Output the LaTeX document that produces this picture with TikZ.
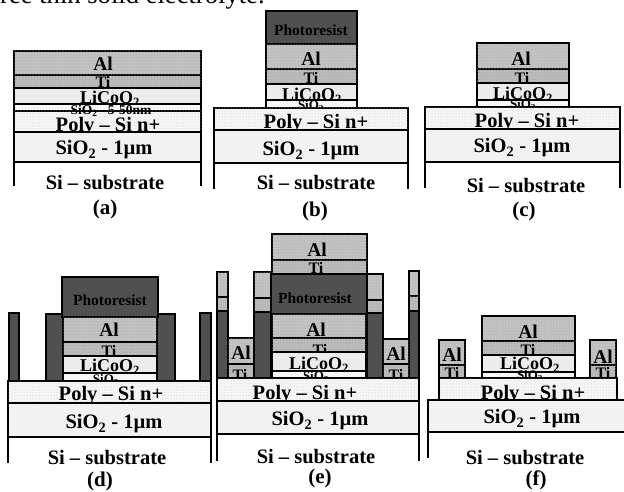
\documentclass[tikz,border=0pt]{standalone}
\usepackage{fontspec}
\setmainfont{Liberation Serif}
\usetikzlibrary{patterns}
\newcommand{\bfsize}[1]{\fontsize{#1}{#1}\selectfont\bfseries}
\newcommand{\SiO}{SiO\textsubscript{2}}
\newcommand{\Film}[5]{\draw[#1] (#2,#3) rectangle (#4,#5);}
\definecolor{alfill}{RGB}{190,190,190}
\definecolor{alspot}{RGB}{225,225,225}
\definecolor{polyfill}{RGB}{246,246,246}
\definecolor{polyspot}{RGB}{200,200,200}
\definecolor{licoo}{RGB}{236,236,236}
\definecolor{oxide}{RGB}{242,242,242}
\definecolor{resist}{RGB}{80,80,80}
\tikzset{
    film/.style={draw=black,line width=1.2pt},
    metal/.style={film,fill=alfill,postaction={pattern=dots,pattern color=alspot}},
    titan/.style={film,fill=alfill!96!black,postaction={pattern=dots,pattern color=alspot}},
    licoofilm/.style={film,fill=licoo},
    thinox/.style={film,fill=oxide!60!white},
    poly/.style={film,fill=polyfill,postaction={pattern=dots,pattern color=polyspot}},
    oxidefilm/.style={film,fill=oxide},
    resistfilm/.style={film,fill=resist},
    wall/.style={draw=black,line width=1.2pt},
    every node/.style={inner sep=0pt,text=black},
    lblal/.style={font=\bfsize{19.5}},
    lblti/.style={font=\bfsize{16}},
    lbllico/.style={font=\bfsize{18}},
    lblthin/.style={font=\bfsize{13}},
    lblpr/.style={font=\bfsize{15.5}},
    lblbig/.style={font=\bfsize{20.5}},
    lblcap/.style={font=\bfsize{21}},
}
\begin{document}
\begin{tikzpicture}[x=1pt,y=-1pt]
    \useasboundingbox (0,0) rectangle (624,492);
    \clip (0,0) rectangle (624,492);
    \fill[white] (0,0) rectangle (624,492);
    \node[anchor=base west,font=\fontsize{26.6}{30}\selectfont] (head) at (0,3.5) {ree thin solid electrolyte.};
    % panel a
    \Film{metal}{14}{51}{201}{75}
    \node[lblal] (a1) at (103,64) {Al};
    \Film{titan}{14}{75}{201}{88}
    \node[lblti] (a2) at (103,82) {Ti};
    \Film{licoofilm}{14}{88}{201}{104}
    \node[lbllico] (a3) at (110,99) {LiCoO\textsubscript{2}};
    \Film{thinox}{14}{104}{201}{111}
    \Film{poly}{14}{111}{201}{132}
    \node[lblthin,font=\bfsize{13.5}] (a4) at (111,111) {\SiO\ –5-50nm};
    \node[lblbig] (a5) at (108,127) {Poly – Si n+};
    \Film{oxidefilm}{14}{132}{201}{162}
    \node[lblbig] (a6) at (104,150) {\SiO\ - 1µm};
    \draw[wall] (14,162) -- (14,186) (201,162) -- (201,186);
    \node[lblbig] (a7) at (105,183) {Si – substrate};
    \node[lblcap] (a8) at (105,209) {(a)};
    % panel b
    \Film{resistfilm}{266}{11}{357}{44}
    \node[lblpr] (b1) at (311,30) {Photoresist};
    \Film{metal}{266}{44}{357}{69}
    \node[lblal] (b2) at (311,59) {Al};
    \Film{titan}{266}{69}{357}{84}
    \node[lblti] (b3) at (311,78) {Ti};
    \Film{licoofilm}{266}{84}{357}{100}
    \node[lbllico] (b4) at (312,96) {LiCoO\textsubscript{2}};
    \Film{thinox}{266}{100}{357}{108}
    \node[lblthin] (b5) at (311,106) {\SiO};
    \Film{poly}{214}{108}{408}{130}
    \node[lblbig] (b6) at (316,124) {Poly – Si n+};
    \Film{oxidefilm}{214}{130}{408}{163}
    \node[lblbig] (b7) at (311,151) {\SiO\ - 1µm};
    \draw[wall] (214,163) -- (214,189) (408,163) -- (408,189);
    \node[lblbig] (b8) at (316,183) {Si – substrate};
    \node[lblcap] (b9) at (315,211) {(b)};
    % panel c
    \Film{metal}{477}{43}{569}{69}
    \node[lblal] (c1) at (521,59) {Al};
    \Film{titan}{477}{69}{569}{83}
    \node[lblti] (c2) at (522,78) {Ti};
    \Film{licoofilm}{477}{83}{569}{100}
    \node[lbllico] (c3) at (523,95) {LiCoO\textsubscript{2}};
    \Film{thinox}{477}{100}{569}{107}
    \node[lblthin] (c4) at (523,105) {\SiO};
    \Film{poly}{425}{107}{620}{129}
    \node[lblbig] (c5) at (527,123) {Poly – Si n+};
    \Film{oxidefilm}{425}{129}{620}{162}
    \node[lblbig] (c6) at (522,148) {\SiO\ - 1µm};
    \draw[wall] (425,162) -- (425,188) (620,162) -- (620,188);
    \node[lblbig] (c7) at (526,186) {Si – substrate};
    \node[lblcap] (c8) at (524,211) {(c)};
    % panel d
    \Film{resistfilm}{9}{313}{19}{381}
    \Film{resistfilm}{46}{314}{63}{381}
    \Film{resistfilm}{157}{314}{175}{381}
    \Film{resistfilm}{200}{313}{211}{381}
    \Film{resistfilm}{62}{277}{158}{317}
    \node[lblpr] (d1) at (110,300) {Photoresist};
    \Film{metal}{63}{317}{157}{342}
    \node[lblal] (d2) at (109,330) {Al};
    \Film{titan}{63}{342}{157}{356}
    \node[lblti] (d3) at (109,351) {Ti};
    \Film{licoofilm}{63}{356}{157}{373}
    \node[lbllico] (d4) at (110,367) {LiCoO\textsubscript{2}};
    \Film{thinox}{63}{373}{157}{381}
    \node[lblthin] (d5) at (106,380) {\SiO};
    \Film{poly}{8}{381}{211}{403}
    \node[lblbig] (d6) at (111,396) {Poly – Si n+};
    \Film{oxidefilm}{8}{403}{211}{437}
    \node[lblbig] (d7) at (114,424) {\SiO\ - 1µm};
    \draw[wall] (8,437) -- (8,463) (211,437) -- (211,463);
    \node[lblbig] (d8) at (107,458) {Si – substrate};
    \node[lblcap] (d9) at (100,481) {(d)};
    % panel e
    \Film{metal}{217}{272}{228}{297}
    \Film{titan}{217}{297}{228}{311}
    \Film{resistfilm}{217}{311}{228}{378}
    \Film{metal}{254}{272}{271}{298}
    \Film{titan}{254}{298}{271}{312}
    \Film{resistfilm}{254}{312}{271}{378}
    \Film{metal}{367}{274}{383}{300}
    \Film{titan}{367}{300}{383}{313}
    \Film{resistfilm}{367}{313}{383}{378}
    \Film{metal}{409}{271}{419}{296}
    \Film{titan}{409}{296}{419}{311}
    \Film{resistfilm}{409}{311}{419}{378}
    \Film{metal}{228}{338}{254}{364}
    \node[lblal] (e1) at (241,353) {Al};
    \Film{titan}{228}{364}{254}{378}
    \node[lblti] (e2) at (240,375) {Ti};
    \Film{metal}{383}{339}{409}{364}
    \node[lblal] (e3) at (396,354) {Al};
    \Film{titan}{383}{364}{409}{378}
    \node[lblti] (e4) at (396,375) {Ti};
    \Film{metal}{272}{234}{367}{260}
    \node[lblal] (e5) at (317,250) {Al};
    \Film{titan}{272}{260}{367}{274}
    \node[lblti] (e6) at (316,268) {Ti};
    \Film{resistfilm}{271}{274}{367}{314}
    \node[lblpr] (e7) at (315,298) {Photoresist};
    \Film{metal}{272}{314}{366}{338}
    \node[lblal] (e8) at (316,330) {Al};
    \Film{titan}{272}{338}{366}{352}
    \node[lblti] (e9) at (320,350) {Ti};
    \Film{licoofilm}{272}{352}{366}{371}
    \node[lbllico] (e10) at (319,365) {LiCoO\textsubscript{2}};
    \Film{thinox}{272}{371}{366}{378}
    \node[lblthin] (e11) at (316,377) {\SiO};
    \Film{poly}{217}{378}{419}{401}
    \node[lblbig] (e12) at (305,395) {Poly – Si n+};
    \Film{oxidefilm}{217}{401}{419}{434}
    \node[lblbig] (e13) at (320,421) {\SiO\ - 1µm};
    \draw[wall] (217,434) -- (217,461) (419,434) -- (419,461);
    \node[lblbig] (e14) at (316,457) {Si – substrate};
    \node[lblcap] (e15) at (320,478) {(e)};
    % panel f
    \Film{metal}{439}{340}{465}{365}
    \node[lblal] (f1) at (452,355) {Al};
    \Film{titan}{439}{365}{465}{378}
    \node[lblti] (f2) at (452,373) {Ti};
    \Film{metal}{590}{340}{616}{365}
    \node[lblal] (f3) at (603,357) {Al};
    \Film{titan}{590}{365}{616}{378}
    \node[lblti] (f4) at (603,373) {Ti};
    \Film{metal}{482}{316}{575}{341}
    \node[lblal] (f5) at (528,332) {Al};
    \Film{titan}{482}{341}{575}{355}
    \node[lblti] (f6) at (528,350) {Ti};
    \Film{licoofilm}{482}{355}{575}{372}
    \node[lbllico] (f7) at (530,365) {LiCoO\textsubscript{2}};
    \Film{thinox}{482}{372}{575}{378}
    \node[lblthin] (f8) at (530,376) {\SiO};
    \Film{poly}{439}{378}{617}{400}
    \node[lblbig] (f9) at (533,395) {Poly – Si n+};
    \Film{oxidefilm}{428}{400}{630}{432}
    \node[lblbig] (f10) at (532,419) {\SiO\ - 1µm};
    \draw[wall] (428,432) -- (428,458);
    \node[lblbig] (f11) at (525,458) {Si – substrate};
    \node[lblcap] (f12) at (536,480) {(f)};
\end{tikzpicture}
\end{document}
